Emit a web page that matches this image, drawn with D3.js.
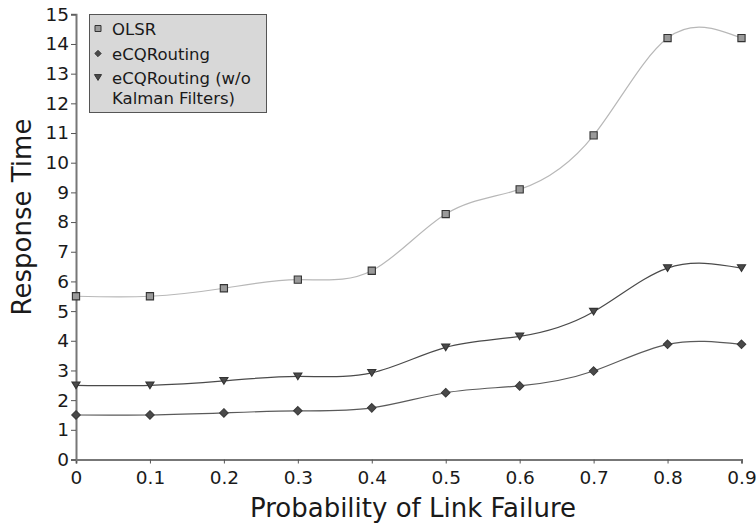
<!DOCTYPE html>
<html>
<head>
<meta charset="utf-8">
<script src="https://cdn.jsdelivr.net/npm/d3@7"></script>
<style>
  html, body { margin: 0; padding: 0; background: #fff; }
  svg { display: block; }
  text { font-family: "DejaVu Sans", sans-serif; fill: #1a1a1a; }
</style>
</head>
<body>
<svg id="chart" width="756" height="525"></svg>
<script>
const xValues = [0, 0.1, 0.2, 0.3, 0.4, 0.5, 0.6, 0.7, 0.8, 0.9];
const olsr = [5.5, 5.5, 5.77, 6.06, 6.36, 8.27, 9.1, 10.92, 14.2, 14.2];
const ecq = [1.5, 1.5, 1.57, 1.64, 1.74, 2.25, 2.48, 2.98, 3.88, 3.88];
const ecqNoKalman = [2.5, 2.5, 2.65, 2.8, 2.92, 3.78, 4.15, 4.98, 6.45, 6.45];
const xTicks = [0, 0.1, 0.2, 0.3, 0.4, 0.5, 0.6, 0.7, 0.8, 0.9];
const yTicks = [0,1,2,3,4,5,6,7,8,9,10,11,12,13,14,15];
const seriesNames = ["OLSR", "eCQRouting", "eCQRouting (w/o Kalman Filters)"];

const svg = d3.select("#chart");
const x = d3.scaleLinear().domain([0, 0.9]).range([76, 741.5]);
const y = d3.scaleLinear().domain([0, 15]).range([459.5, 14.3]);

// custom symbols
const triDown = {
  draw(ctx, size) {
    const w = Math.sqrt(size) * 1.15, h = w * 0.82;
    ctx.moveTo(-w / 2, -h / 2);
    ctx.lineTo(w / 2, -h / 2);
    ctx.lineTo(0, h / 2);
    ctx.closePath();
  }
};
const diamond = {
  draw(ctx, size) {
    const r = Math.sqrt(size) / 2;
    ctx.moveTo(0, -r);
    ctx.lineTo(r, 0);
    ctx.lineTo(0, r);
    ctx.lineTo(-r, 0);
    ctx.closePath();
  }
};

const series = [
  { name: seriesNames[0], values: olsr, line: "#b8b8b8", symbol: d3.symbolSquare, size: 52, fill: "#9a9a9a", stroke: "#333" },
  { name: seriesNames[1], values: ecq, line: "#5a5a5a", symbol: diamond, size: 72, fill: "#4a4a4a", stroke: "#3a3a3a" },
  { name: seriesNames[2], values: ecqNoKalman, line: "#4a4a4a", symbol: triDown, size: 50, fill: "#4a4a4a", stroke: "#333" }
];

// axes
const xAxis = d3.axisBottom(x).tickValues(xTicks).tickSize(4).tickFormat(d => d === 0 ? "0" : d3.format(".1f")(d));
const yAxis = d3.axisLeft(y).tickValues(yTicks).tickSize(5).tickFormat(d3.format("d"));

const gx = svg.append("g").attr("transform", `translate(0,${y(0)})`).call(xAxis);
const gy = svg.append("g").attr("transform", `translate(${x(0)},0)`).call(yAxis);
[gx, gy].forEach(g => {
  g.select(".domain").attr("stroke", "#777").attr("stroke-width", 2);
  g.selectAll(".tick line").attr("stroke", "#555").attr("stroke-width", 1);
  g.selectAll(".tick text").style("font-family", "DejaVu Sans").style("font-size", "18.5px").attr("fill", "#1a1a1a");
});
gx.selectAll(".tick text").attr("dy", "0.71em").attr("y", 11);
gy.selectAll(".tick text").attr("x", -7);

// lines
const line = d3.line().x((d, i) => x(xValues[i])).y(d => y(d)).curve(d3.curveNatural);
series.forEach(s => {
  svg.append("path").datum(s.values)
    .attr("d", line).attr("fill", "none")
    .attr("stroke", s.line).attr("stroke-width", 1.2);
});
series.forEach(s => {
  const sym = d3.symbol().type(s.symbol).size(s.size);
  svg.append("g").selectAll("path").data(s.values).join("path")
    .attr("d", sym)
    .attr("transform", (d, i) => `translate(${x(xValues[i])},${y(d)})`)
    .attr("fill", s.fill).attr("stroke", s.stroke).attr("stroke-width", 1.1);
});

// axis titles
svg.append("text").attr("x", 413).attr("y", 517).attr("text-anchor", "middle")
  .style("font-size", "26px").text("Probability of Link Failure");
svg.append("text").attr("transform", "translate(31,217) rotate(-90)").attr("text-anchor", "middle")
  .style("font-size", "26px").text("Response Time");

// legend
const lg = svg.append("g");
lg.append("rect").attr("x", 89.5).attr("y", 14.5).attr("width", 177).attr("height", 98)
  .attr("fill", "#d8d8d8").attr("stroke", "#555").attr("stroke-width", 1);
const legendRows = [
  { s: series[0], lines: ["OLSR"], cy: 28.5, size: 36 },
  { s: series[1], lines: ["eCQRouting"], cy: 53.5, size: 40 },
  { s: series[2], lines: ["eCQRouting (w/o", "Kalman Filters)"], cy: 77.5, size: 38 }
];
legendRows.forEach(r => {
  const sym = d3.symbol().type(r.s.symbol).size(r.size);
  lg.append("path").attr("d", sym).attr("transform", `translate(98,${r.cy})`)
    .attr("fill", r.s.fill).attr("stroke", r.s.stroke).attr("stroke-width", 1);
  r.lines.forEach((t, k) => {
    lg.append("text").attr("x", 112).attr("y", r.cy + 6 + k * 20)
      .style("font-size", "16.5px").text(t);
  });
});
</script>
</body>
</html>
